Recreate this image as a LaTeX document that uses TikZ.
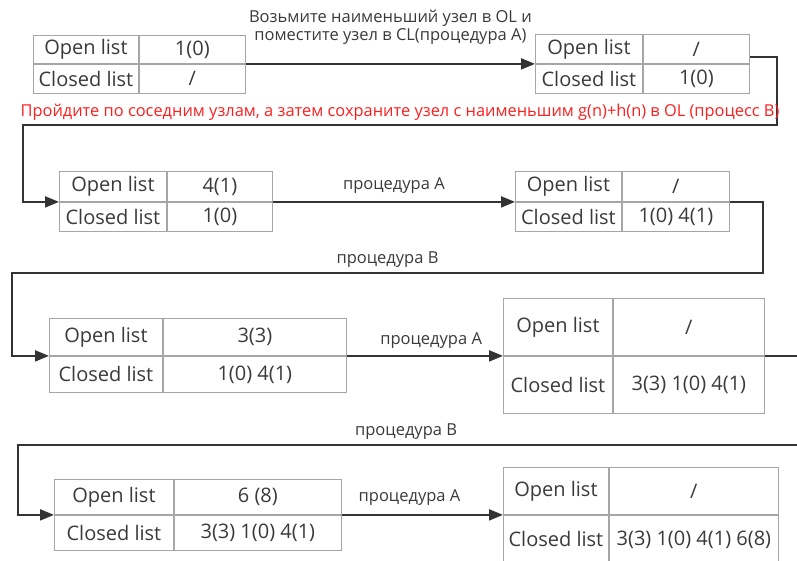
\documentclass[tikz,border=0pt]{standalone}
\usepackage{fontspec}
\setmainfont{Open Sans}
\usetikzlibrary{arrows.meta}
\definecolor{cellgray}{HTML}{A6A6A6}
\definecolor{txtgray}{HTML}{3A3A3A}
\definecolor{linegray}{HTML}{333333}
\definecolor{notered}{HTML}{FF1E1E}
\begin{document}
\begin{tikzpicture}[
    x=1pt, y=-1pt,
    cell/.style={draw=cellgray, line width=0.9pt, text=txtgray, inner sep=0pt,
                 anchor=north west, font=\fontsize{20}{23}\selectfont},
    conn/.style={draw=linegray, line width=2pt, -{Triangle[length=14pt,width=11pt]}},
    lbl/.style={text=txtgray, font=\fontsize{16.5}{18}\selectfont},
    redlbl/.style={text=notered, font=\fontsize{16.4}{18}\selectfont}
]

\useasboundingbox (0,0) rectangle (797,561);
\clip (0,0) rectangle (797,561);

% Step 1
\node[cell, minimum width=105pt, minimum height=28pt] (t1a) at (33,35) {Open list};
\node[cell, minimum width=106pt, minimum height=28pt] (t1b) at (t1a.north east) {1(0)};
\node[cell, minimum width=105pt, minimum height=29pt] (t1c) at (t1a.south west) {Closed list};
\node[cell, minimum width=106pt, minimum height=29pt] (t1d) at (t1c.north east) {/};

% Step 2
\node[cell, minimum width=107pt, minimum height=29pt] (t2a) at (535,34) {Open list};
\node[cell, minimum width=106pt, minimum height=29pt] (t2b) at (t2a.north east) {/};
\node[cell, minimum width=107pt, minimum height=29pt] (t2c) at (t2a.south west) {Closed list};
\node[cell, minimum width=106pt, minimum height=29pt] (t2d) at (t2c.north east) {1(0)};

% Step 3
\node[cell, minimum width=107pt, minimum height=30pt] (t3a) at (59,171) {Open list};
\node[cell, minimum width=105pt, minimum height=30pt] (t3b) at (t3a.north east) {4(1)};
\node[cell, minimum width=107pt, minimum height=29pt] (t3c) at (t3a.south west) {Closed list};
\node[cell, minimum width=105pt, minimum height=29pt] (t3d) at (t3c.north east) {1(0)};

% Step 4
\node[cell, minimum width=106pt, minimum height=30pt] (t4a) at (515,171) {Open list};
\node[cell, minimum width=107pt, minimum height=30pt] (t4b) at (t4a.north east) {/};
\node[cell, minimum width=106pt, minimum height=29pt] (t4c) at (t4a.south west) {Closed list};
\node[cell, minimum width=107pt, minimum height=29pt] (t4d) at (t4c.north east) {1(0) 4(1)};

% Step 5
\node[cell, minimum width=113pt, minimum height=37pt] (t5a) at (49,318) {Open list};
\node[cell, minimum width=183pt, minimum height=37pt] (t5b) at (t5a.north east) {3(3)};
\node[cell, minimum width=113pt, minimum height=36pt] (t5c) at (t5a.south west) {Closed list};
\node[cell, minimum width=183pt, minimum height=36pt] (t5d) at (t5c.north east) {1(0) 4(1)};

% Step 6
\node[cell, minimum width=109pt, minimum height=57pt] (t6a) at (503,298) {Open list};
\node[cell, minimum width=151pt, minimum height=57pt] (t6b) at (t6a.north east) {/};
\node[cell, minimum width=109pt, minimum height=57pt] (t6c) at (t6a.south west) {Closed list};
\node[cell, minimum width=151pt, minimum height=57pt] (t6d) at (t6c.north east) {3(3) 1(0) 4(1)};

% Step 7
\node[cell, minimum width=119pt, minimum height=35pt] (t7a) at (54,479) {Open list};
\node[cell, minimum width=167pt, minimum height=35pt] (t7b) at (t7a.north east) {6 (8)};
\node[cell, minimum width=119pt, minimum height=35pt] (t7c) at (t7a.south west) {Closed list};
\node[cell, minimum width=167pt, minimum height=35pt] (t7d) at (t7c.north east) {3(3) 1(0) 4(1)};

% Step 8
\node[cell, minimum width=105pt, minimum height=47pt] (t8a) at (503,467) {Open list};
\node[cell, minimum width=169pt, minimum height=47pt] (t8b) at (t8a.north east) {/};
\node[cell, minimum width=105pt, minimum height=48pt] (t8c) at (t8a.south west) {Closed list};
\node[cell, minimum width=169pt, minimum height=48pt] (t8d) at (t8c.north east) {3(3) 1(0) 4(1) 6(8)};

% Bends
\coordinate (r1) at (777,125);
\coordinate (l1) at (23,125);
\coordinate (r2) at (763,273);
\coordinate (l2) at (12,273);
\coordinate (r3) at (810,445);
\coordinate (l3) at (18,445);

% Procedure A / B
\draw[conn] (t1b.south east) -- node[lbl, align=center, yshift=37pt]
    {Возьмите наименьший узел в OL и\\поместите узел в CL(процедура A)} (t2a.south west);
\draw[conn] ([yshift=-8pt]t2b.east) -| (r1) -- node[redlbl, yshift=13pt]
    {Пройдите по соседним узлам, а затем сохраните узел с наименьшим g(n)+h(n) в OL (процесс B)} (l1) |- (t3a.south west);
\draw[conn] (t3b.south east) -- node[lbl, yshift=16pt] {процедура А} (t4a.south west);
\draw[conn] (t4b.south east) -| (r2) -- node[lbl, yshift=13pt] {процедура B} (l2) |- (t5a.south west);
\draw[conn] (t5b.south east) -- node[lbl, yshift=15pt, pos=0.54] {процедура А} (t6a.south west);
\draw[conn] (t6b.south east) -| (r3) -- node[lbl, yshift=13pt, pos=0.51] {процедура B} (l3) |- (t7a.south west);
\draw[conn] (t7b.south east) -- node[lbl, yshift=17pt, pos=0.42] {процедура А} (t8a.south west);

\end{tikzpicture}
\end{document}
